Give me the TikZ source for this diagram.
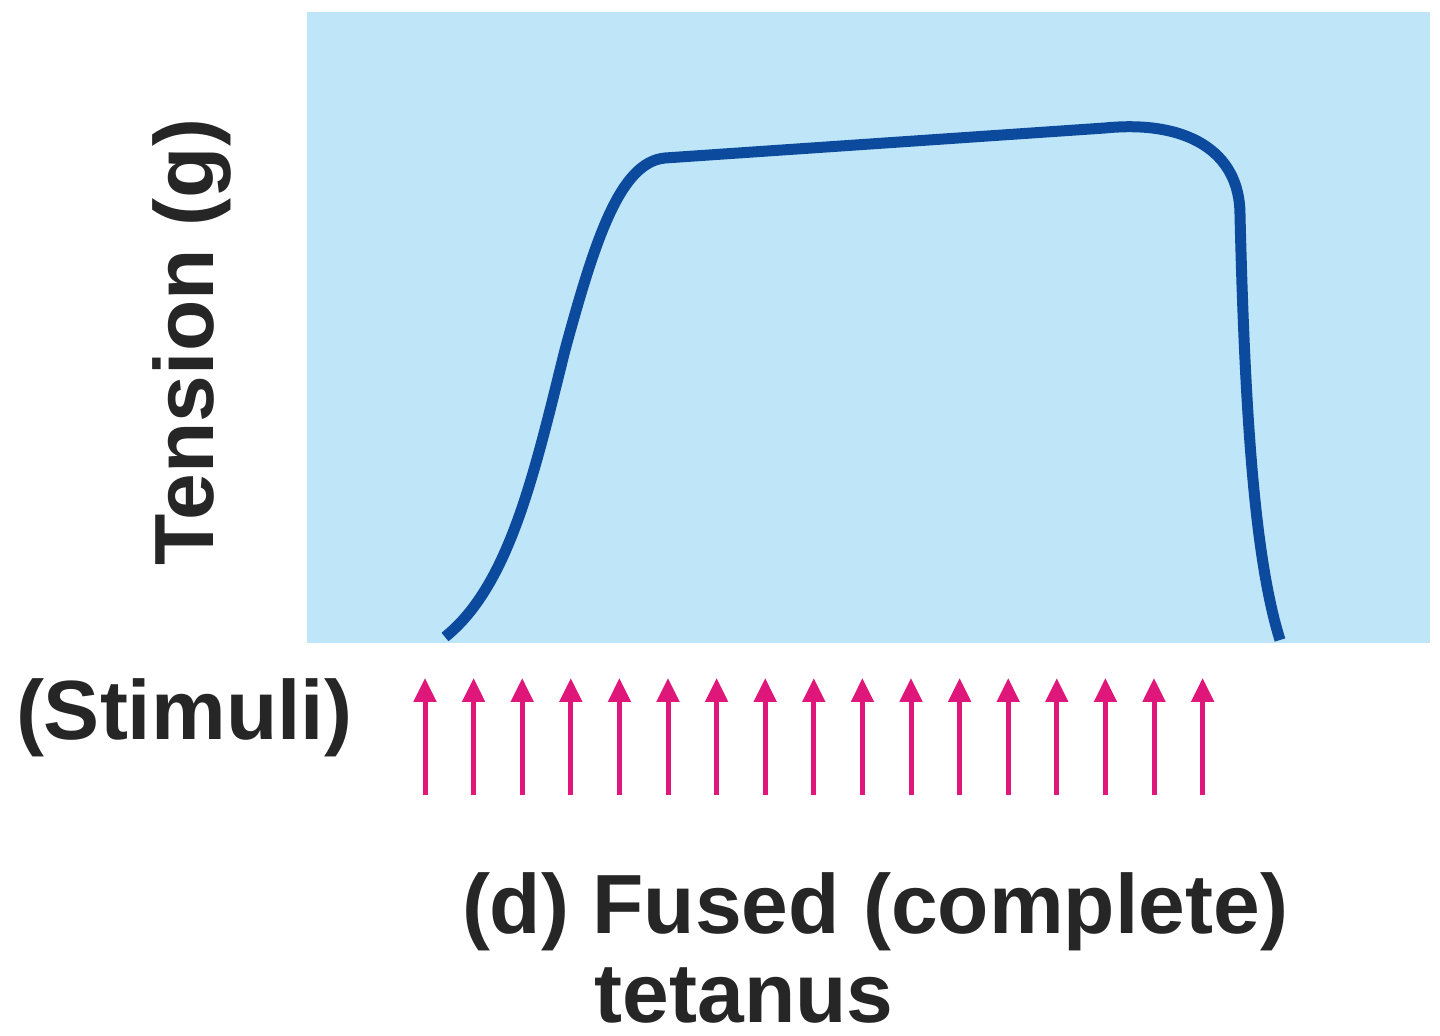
\documentclass[tikz,border=0pt]{standalone}
\usepackage{fontspec}
\setmainfont{Liberation Sans}
\usetikzlibrary{arrows.meta}
\definecolor{bg}{HTML}{BEE5F8}
\definecolor{curve}{HTML}{0B4A9C}
\definecolor{stim}{HTML}{E0177A}
\tikzset{lbl/.style={font=\fontsize{42}{48}\selectfont\bfseries, text=black!85, inner sep=0pt},
 stimarrow/.style={stim, line width=2.5pt, -{Triangle[length=12pt,width=11pt]}}}
\begin{document}
\begin{tikzpicture}[x=0.5pt,y=-0.5pt]
\useasboundingbox (0,0) rectangle (1440,1036);
\fill[bg] (307,12) rectangle (1430,643);
\draw[curve, line width=5.5pt] (445,637) .. controls (510,585) and (535,470) .. (565,350)
  .. controls (595,240) and (620,162) .. (665,158)
  -- (1105,128) .. controls (1185,120) and (1240,150) .. (1240,215)
  .. controls (1245,420) and (1255,560) .. (1280,640);
\foreach \i in {0,...,16} {
  \coordinate (b\i) at ({425+\i*48.6},795);
  \coordinate (t\i) at ({425+\i*48.6},678);
  \draw[stimarrow] (b\i) -- (t\i);
}
\node[lbl] (stimuli) at (184,718) {(Stimuli)};
\node[lbl, rotate=90] (tension) at (192,342) {Tension (g)};
\node[lbl] (cap1) at (875,912) {(d) Fused (complete)};
\node[lbl] (cap2) at (744,996) {tetanus};
\end{tikzpicture}
\end{document}
